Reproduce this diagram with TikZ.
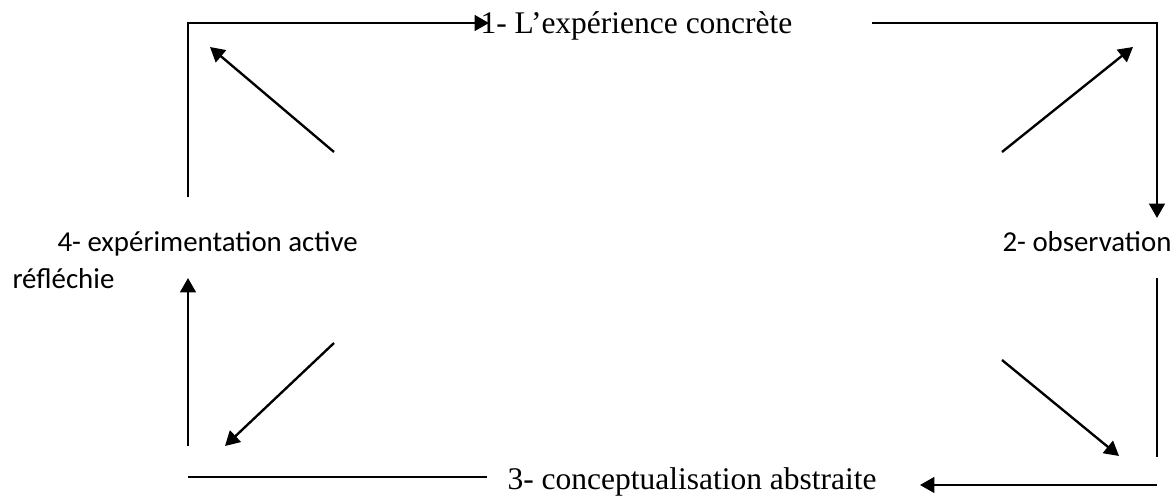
\documentclass[tikz,border=0pt]{standalone}
\usepackage{fontspec}
\setmainfont{Liberation Serif}
\newfontfamily\calibri{Carlito}
\usetikzlibrary{arrows.meta}

\begin{document}
\begin{tikzpicture}[x=0.381pt, y=-0.381pt,
  LN/.style={line width=0.9pt, black},
  AR/.style={LN, -{Triangle[length=5.5pt,width=6pt]}},
  TX/.style={anchor=base west, inner sep=0pt, font=\fontsize{12}{14}\selectfont},
  CT/.style={anchor=base west, inner sep=0pt, font=\calibri\fontsize{11}{13.4}\selectfont}
]
  \useasboundingbox (0,0) rectangle (1176,495);

  % the four stages
  \node[TX] (exp)  at (480,33)   {1- L’expérience concrète};
  \node[CT] (obs)  at (1002,251) {2- observation};
  \node[TX] (conc) at (507,489)  {3- conceptualisation abstraite};
  \node[CT] (act)  at (57,251)   {4- expérimentation active};
  \node[CT] (refl) at (12,288)   {réfléchie};

  % outer frame
  \coordinate (lA) at (188,197);  \coordinate (tA) at (489,23);
  \coordinate (tB) at (872,23);   \coordinate (rB) at (1157,218);
  \coordinate (rC) at (1157,278); \coordinate (rD) at (1157,457);
  \coordinate (bD) at (1157,485); \coordinate (bE) at (920,485);
  \coordinate (bF) at (487,477);  \coordinate (lF) at (188,477);
  \coordinate (lG) at (188,446);  \coordinate (lH) at (188,278);

  \draw[AR] (lA) |- (tA);
  \draw[AR] (tB) -| (rB);
  \draw[LN] (rC) -- (rD);
  \draw[AR] (bD) -- (bE);
  \draw[LN] (bF) -- (lF);
  \draw[AR] (lG) -- (lH);

  % inner diagonal arrows
  \coordinate (q1s) at (1002,152); \coordinate (q1e) at (1133,47);
  \coordinate (q2s) at (1002,360); \coordinate (q2e) at (1119,456);
  \coordinate (q3s) at (334,343);  \coordinate (q3e) at (225,446);
  \coordinate (q4s) at (334,152);  \coordinate (q4e) at (210,47);

  \foreach \a/\b in {q1s/q1e,q2s/q2e,q3s/q3e,q4s/q4e} \draw[AR] (\a)--(\b);
\end{tikzpicture}
\end{document}
